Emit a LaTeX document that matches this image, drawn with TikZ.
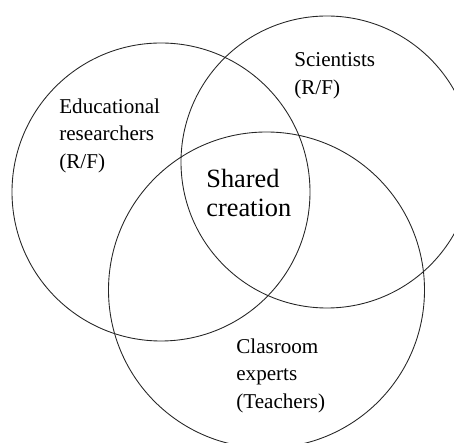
\documentclass[tikz,border=0pt]{standalone}
\usepackage{fontspec}
\setmainfont{Liberation Serif}
\usepackage{tikz}
\tikzset{ring/.style = {line width = 0.5pt, black!85}}
\tikzset{lbl/.style = {anchor = north west, align = left, inner sep = 0,
                       font = \fontsize{12}{15.6}\selectfont}}
\tikzset{big/.style = {anchor = north west, align = left, inner sep = 0,
                       font = \fontsize{15}{16.8}\selectfont}}

\begin{document}
\begin{tikzpicture}
          \useasboundingbox (0, 0) rectangle (9.08, 8.86);
          \draw [ring] (3.22, 5.02) circle [radius=2.98];
          \draw [ring] (6.54, 5.62) circle [radius=2.92];
          \draw [ring] (5.33, 3.06) circle [radius=3.16];

          \node [lbl] (edu) at (1.18, 6.89) {Educational\\researchers\\(R/F)};
          \node [lbl] (sci) at (5.88, 7.81) {Scientists\\(R/F)};
          \node [lbl] (tea) at (4.72, 2.09) {Clasroom\\experts\\(Teachers)};
          \node [big] (shared) at (4.12, 5.49) {Shared\\creation};
        \end{tikzpicture}
\end{document}
